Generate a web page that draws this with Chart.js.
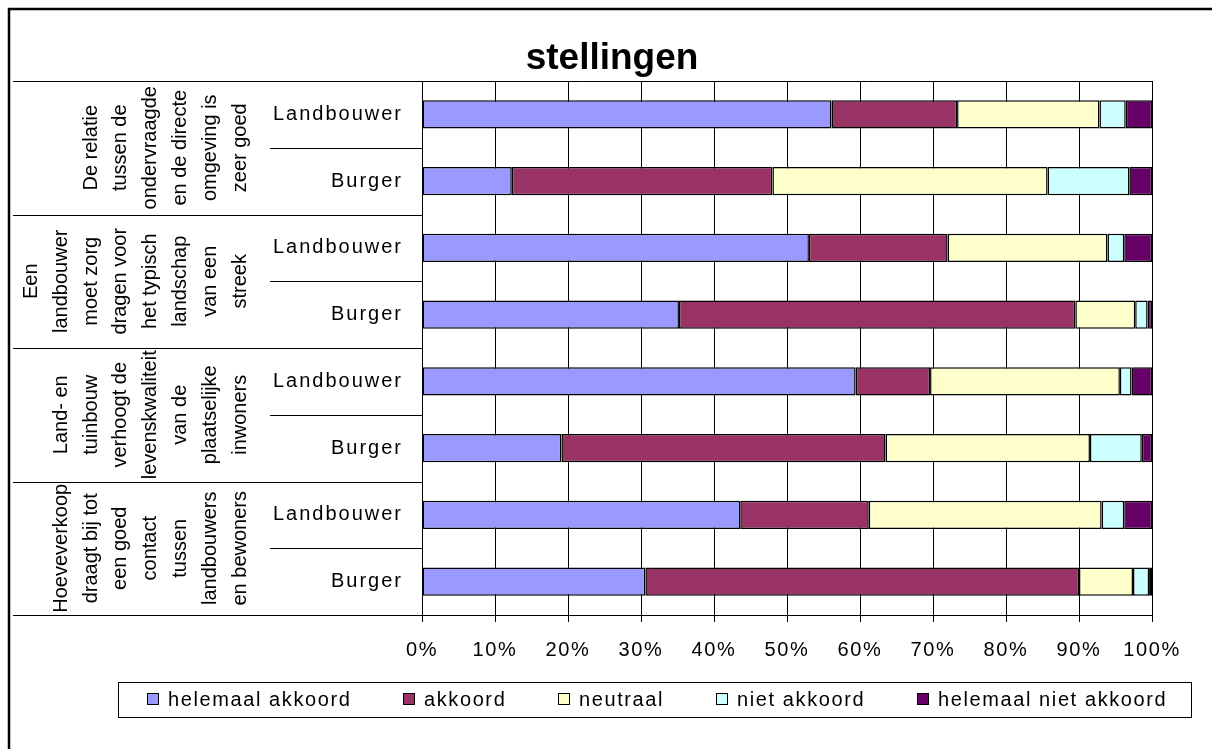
<!DOCTYPE html>
<html>
<head>
<meta charset="utf-8">
<title>stellingen</title>
<script src="https://cdn.jsdelivr.net/npm/chart.js@4/dist/chart.umd.min.js"></script>
<style>
  html, body { margin: 0; padding: 0; background: #fff; }
</style>
</head>
<body>
<canvas id="chart" width="1212" height="749"></canvas>
<script>
// respondent per bar, top to bottom
const respondents = ['Landbouwer', 'Burger', 'Landbouwer', 'Burger', 'Landbouwer', 'Burger', 'Landbouwer', 'Burger'];

// statements, one per pair of bars, split into the printed lines
const statements = [
  ['De relatie', 'tussen de', 'ondervraagde', 'en de directe', 'omgeving is', 'zeer goed'],
  ['Een', 'landbouwer', 'moet zorg', 'dragen voor', 'het typisch', 'landschap', 'van een', 'streek'],
  ['Land- en', 'tuinbouw', 'verhoogt de', 'levenskwaliteit', 'van de', 'plaatselijke', 'inwoners'],
  ['Hoeveverkoop', 'draagt bij tot', 'een goed', 'contact', 'tussen', 'landbouwers', 'en bewoners']
];

// answer shares in %
const helemaalAkkoord = [56.1, 12.3, 53.0, 35.2, 59.4, 19.1, 43.6, 30.6];
const akkoord = [17.2, 35.7, 19.0, 54.3, 10.2, 44.4, 17.6, 59.4];
const neutraal = [19.5, 37.7, 21.9, 8.2, 26.0, 28.0, 31.9, 7.4];
const nietAkkoord = [3.6, 11.2, 2.3, 1.7, 1.6, 7.1, 3.1, 2.2];
const helemaalNietAkkoord = [3.6, 3.1, 3.8, 0.6, 2.8, 1.4, 3.8, 0.4];

const seriesLabels = ['helemaal akkoord', 'akkoord', 'neutraal', 'niet akkoord', 'helemaal niet akkoord'];
const seriesColors = ['#9999FF', '#993366', '#FFFFCC', '#CCFFFF', '#660066'];
const FONT = '"Liberation Sans", Arial, sans-serif';

// frame, title, left hand labels and legend
const decorations = {
  id: 'decorations',
  beforeDraw(chart) {
    chart.ctx.letterSpacing = '1.6px';
  },
  afterDraw(chart) {
    const ctx = chart.ctx;
    const area = chart.chartArea;
    const y = chart.scales.y;
    ctx.save();

    // outer frame
    ctx.strokeStyle = '#000';
    ctx.lineWidth = 2.5;
    ctx.strokeRect(9, 9, 1220, 760);

    // title
    ctx.letterSpacing = '0px';
    ctx.fillStyle = '#000';
    ctx.font = 'bold 37px ' + FONT;
    ctx.textAlign = 'center';
    ctx.textBaseline = 'alphabetic';
    ctx.fillText('stellingen', 612, 69);

    // category separators
    const half = (y.getPixelForValue(1) - y.getPixelForValue(0)) / 2;
    ctx.lineWidth = 1;
    ctx.strokeStyle = '#000';
    ctx.beginPath();
    ctx.moveTo(13, area.top + 0.5);
    ctx.lineTo(area.right, area.top + 0.5);
    for (let g = 0; g <= statements.length; g++) {
      const yy = Math.round(y.getPixelForValue(g * 2) - half) + 0.5;
      ctx.moveTo(13, yy);
      ctx.lineTo(area.left, yy);
    }
    for (let g = 0; g < statements.length; g++) {
      const yy = Math.round(y.getPixelForValue(g * 2) + half) + 0.5;
      ctx.moveTo(270, yy);
      ctx.lineTo(area.left, yy);
    }
    ctx.stroke();

    // respondent labels
    ctx.font = '20px ' + FONT;
    ctx.letterSpacing = '2px';
    ctx.textAlign = 'right';
    ctx.textBaseline = 'middle';
    respondents.forEach((r, i) => {
      ctx.fillText(r, 403, y.getPixelForValue(i));
    });

    // statement labels, rotated
    ctx.letterSpacing = '0px';
    ctx.textAlign = 'center';
    statements.forEach((lines, g) => {
      const cy = (y.getPixelForValue(g * 2) + y.getPixelForValue(g * 2 + 1)) / 2;
      lines.forEach((line, i) => {
        const cx = 240 - (lines.length - 1 - i) * 29.8;
        ctx.save();
        ctx.translate(cx, cy);
        ctx.rotate(-Math.PI / 2);
        ctx.fillText(line, 0, 0);
        ctx.restore();
      });
    });

    // legend: items spread evenly between the first swatch and the last text end
    ctx.strokeStyle = '#000';
    ctx.lineWidth = 1;
    ctx.strokeRect(118.5, 682.5, 1073, 35);
    ctx.font = '20px ' + FONT;
    ctx.letterSpacing = '1.6px';
    ctx.textAlign = 'left';
    const box = 12, textGap = 9, start = 147, end = 1167;
    const widths = chart.data.datasets.map(ds => box + textGap + ctx.measureText(ds.label).width);
    const spacing = (end - start - widths.reduce((a, b) => a + b, 0)) / (widths.length - 1);
    let lx = start;
    chart.data.datasets.forEach((ds, i) => {
      const sx = Math.round(lx);
      ctx.fillStyle = ds.backgroundColor;
      ctx.fillRect(sx, 693, box, box);
      ctx.strokeRect(sx + 0.5, 693.5, box - 1, box - 1);
      ctx.fillStyle = '#000';
      ctx.fillText(ds.label, sx + box + textGap, 700);
      lx += widths[i] + spacing;
    });

    ctx.restore();
  }
};

const values = [helemaalAkkoord, akkoord, neutraal, nietAkkoord, helemaalNietAkkoord];

new Chart(document.getElementById('chart'), {
  type: 'bar',
  data: {
    labels: respondents,
    datasets: values.map((v, i) => ({
      label: seriesLabels[i],
      data: v,
      backgroundColor: seriesColors[i],
      borderColor: '#000',
      borderWidth: 1.5,
      borderSkipped: false,
      categoryPercentage: 1,
      barPercentage: 0.42
    }))
  },
  options: {
    indexAxis: 'y',
    responsive: false,
    animation: false,
    devicePixelRatio: 1,
    layout: { padding: { left: 422, right: 60, top: 81, bottom: 71 } },
    plugins: {
      legend: { display: false },
      title: { display: false },
      tooltip: { enabled: false }
    },
    scales: {
      x: {
        stacked: true,
        min: 0,
        max: 100,
        ticks: {
          stepSize: 10,
          color: '#000',
          padding: 16,
          font: { family: FONT, size: 20 },
          callback: v => v + '%'
        },
        grid: { color: '#000', lineWidth: 1, tickLength: 7 },
        border: { display: true, color: '#000', width: 1 }
      },
      y: {
        stacked: true,
        display: false
      }
    }
  },
  plugins: [decorations]
});
</script>
</body>
</html>
